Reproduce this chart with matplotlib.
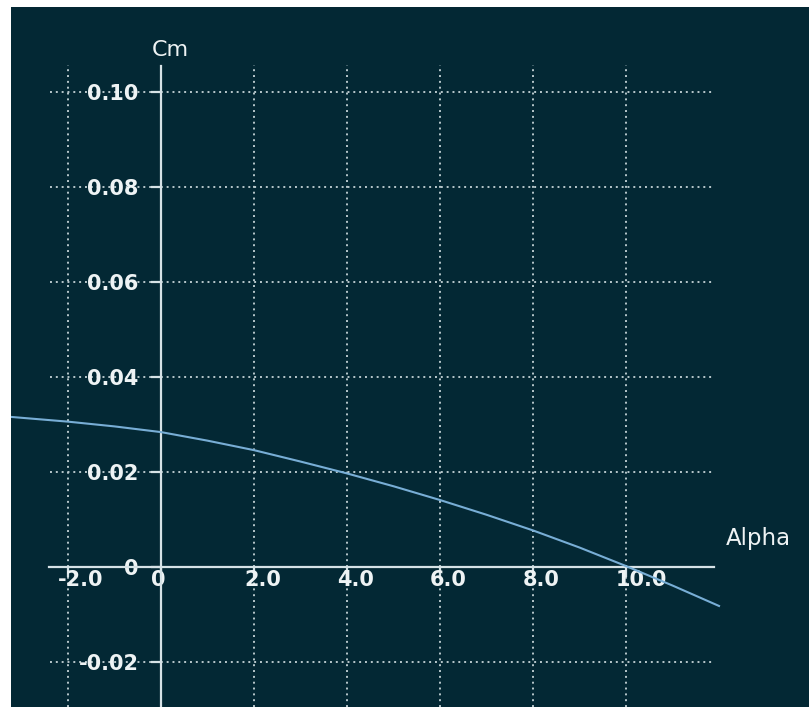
import matplotlib
matplotlib.use("Agg")
import matplotlib.pyplot as plt
from matplotlib.transforms import ScaledTranslation

# Data
alpha = [-3.23, -2, -1, 0, 1, 2, 3, 4, 5, 6, 7, 8, 9, 10, 11, 12]
cm = [0.0316, 0.0306, 0.0296, 0.0284, 0.0266, 0.0246, 0.0222, 0.0197,
      0.0170, 0.0141, 0.0110, 0.0077, 0.0041, 0.0002, -0.0039, -0.0082]
x_ticks = [-2, 0, 2, 4, 6, 8, 10]
x_labels = ["-2.0", "0", "2.0", "4.0", "6.0", "8.0", "10.0"]
y_ticks = [-0.02, 0, 0.02, 0.04, 0.06, 0.08, 0.10]
y_labels = ["-0.02", "0", "0.02", "0.04", "0.06", "0.08", "0.10"]

BG = "#032834"
AXC = "#d6e2e6"
GRID = "#b8c8cc"
TXT = "#eef3f4"
CURVE = "#78aed6"

W, H = 809, 707
fig = plt.figure(figsize=(W / 100, H / 100), dpi=100, facecolor="white")
ax = fig.add_axes([11 / W, 0, 798 / W, 700 / H])
ax.set_facecolor(BG)

ax.set_xlim(-3.226, 13.935)
ax.set_ylim(-0.02947, 0.11789)

# grid (dotted)
for yv in y_ticks:
    if yv != 0:
        ax.hlines(yv, -2.39, 11.87, colors=GRID, linestyles=(0, (1, 2)), linewidth=1.4, zorder=1)
for xv in x_ticks:
    if xv != 0:
        ax.vlines(xv, -0.0295, 0.1057, colors=GRID, linestyles=(0, (1, 2)), linewidth=1.4, zorder=1)

# spines as axis lines through origin
for s in ["top", "right"]:
    ax.spines[s].set_visible(False)
ax.spines["left"].set_position(("data", 0))
ax.spines["bottom"].set_position(("data", 0))
ax.spines["bottom"].set_bounds(-2.4, 11.9)
ax.spines["left"].set_bounds(-0.0295, 0.1055)
for s in ["left", "bottom"]:
    ax.spines[s].set_color(AXC)
    ax.spines[s].set_linewidth(1.6)
    ax.spines[s].set_zorder(3)

ax.set_xticks(x_ticks)
ax.set_xticklabels(x_labels)
ax.set_yticks(y_ticks)
ax.set_yticklabels(y_labels)
ax.tick_params(axis="both", direction="out", length=7.5, width=1.6, color=AXC,
               labelcolor=TXT, labelsize=15)
ax.tick_params(axis="x", pad=-5)
ax.tick_params(axis="y", pad=8.5)
for lab in ax.get_xticklabels():
    lab.set_horizontalalignment("left")
    lab.set_fontweight("bold")
    lab.set_transform(lab.get_transform() + ScaledTranslation(-10 / 100, 0, fig.dpi_scale_trans))
for lab in ax.get_yticklabels():
    lab.set_fontweight("bold")

# curve
ax.plot(alpha, cm, color=CURVE, linewidth=1.5, zorder=4, clip_on=True)

# axis titles
ax.text(170, H - 50, "Cm", transform=None, color=TXT, fontsize=16,
        ha="center", va="center")
ax.text(758, H - 539, "Alpha", transform=None, color=TXT, fontsize=16.5,
        ha="center", va="center")

fig.savefig("out.png", dpi=100, facecolor=fig.get_facecolor())
